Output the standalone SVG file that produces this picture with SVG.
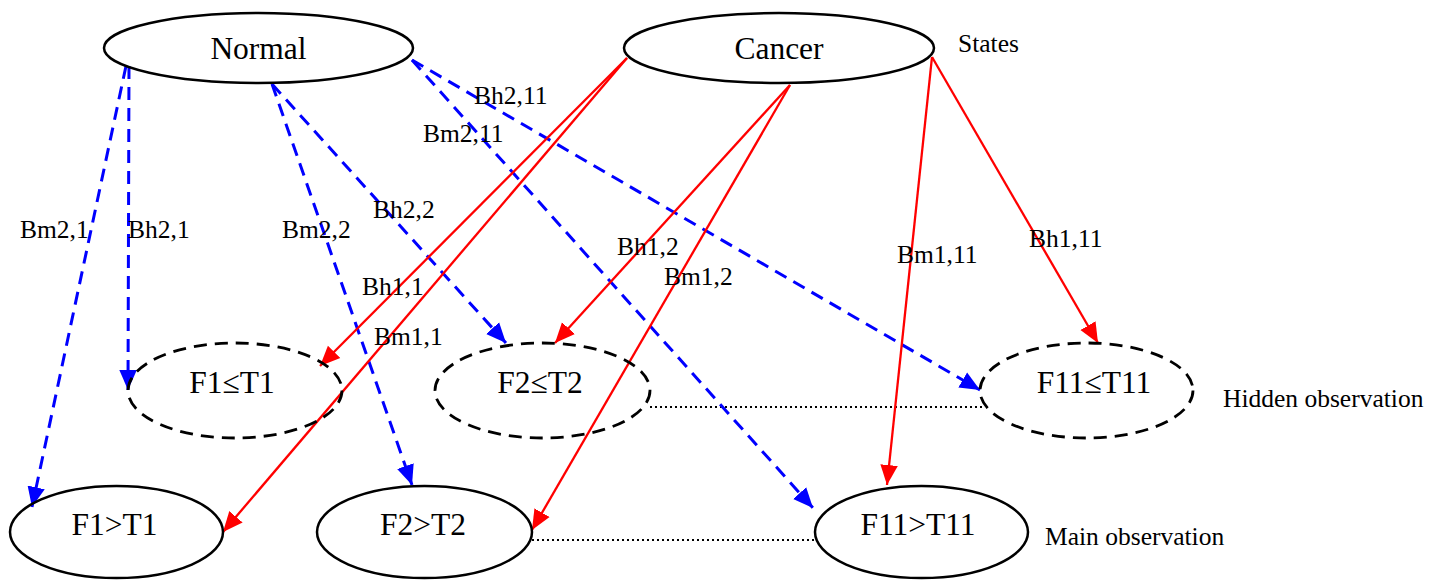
<svg xmlns="http://www.w3.org/2000/svg" width="1445" height="580" viewBox="0 0 1445 580">
<style>
.node{fill:none;stroke:#000;stroke-width:2.5}
.hid{fill:none;stroke:#000;stroke-width:2.8;stroke-dasharray:13,8}
.ntext{font-family:"Liberation Serif",serif;font-size:31.5px;fill:#000;text-anchor:middle}
.lbl{font-family:"Liberation Serif",serif;font-size:25.5px;fill:#000}
.blue{fill:none;stroke:#0000ff;stroke-width:3;stroke-dasharray:13,8}
.red{fill:none;stroke:#ff0000;stroke-width:2.3}
.dot{fill:none;stroke:#000;stroke-width:2.2;stroke-dasharray:2,3}
</style>
<defs>
<marker id="ab" markerUnits="userSpaceOnUse" markerWidth="20" markerHeight="20" viewBox="0 0 16 14" refX="16" refY="7" orient="auto"><path d="M0,0 L16,7 L0,14 Z" fill="#0000ff" stroke="none"/></marker>
<marker id="ar" markerUnits="userSpaceOnUse" markerWidth="20" markerHeight="20" viewBox="0 0 16 14" refX="16" refY="7" orient="auto"><path d="M0,0 L16,7 L0,14 Z" fill="#ff0000" stroke="none"/></marker>
</defs>
<rect width="1445" height="580" fill="#fff"/>

<g id="connectors">
<line class="dot" x1="650" y1="407" x2="982" y2="407"/>
<line class="dot" x1="532" y1="540" x2="815" y2="540"/>
<line class="blue" x1="126" y1="66" x2="32" y2="507" marker-end="url(#ab)"/>
<line class="blue" x1="129" y1="66" x2="128" y2="390" marker-end="url(#ab)"/>
<line class="blue" x1="272" y1="84" x2="412" y2="485" marker-end="url(#ab)"/>
<line class="blue" x1="272" y1="84" x2="506" y2="343" marker-end="url(#ab)"/>
<line class="blue" x1="412" y1="60" x2="813" y2="508" marker-end="url(#ab)"/>
<line class="blue" x1="412" y1="60" x2="980" y2="390" marker-end="url(#ab)"/>
<line class="red" x1="627" y1="58" x2="320" y2="366" marker-end="url(#ar)"/>
<line class="red" x1="627" y1="58" x2="223" y2="532" marker-end="url(#ar)"/>
<line class="red" x1="790" y1="85" x2="555" y2="343" marker-end="url(#ar)"/>
<line class="red" x1="790" y1="85" x2="532" y2="530" marker-end="url(#ar)"/>
<line class="red" x1="932" y1="57" x2="887" y2="485" marker-end="url(#ar)"/>
<line class="red" x1="932" y1="57" x2="1098" y2="343" marker-end="url(#ar)"/>
</g>

<g id="normal"><ellipse class="node" cx="258.5" cy="48" rx="154.5" ry="35"/><text class="ntext" x="258.5" y="59">Normal</text></g>
<g id="cancer"><ellipse class="node" cx="779" cy="48" rx="155" ry="35"/><text class="ntext" x="779" y="59">Cancer</text></g>
<g id="f1le"><ellipse class="hid" cx="235" cy="390.5" rx="107" ry="47.5"/><text class="ntext" x="232" y="393">F1≤T1</text></g>
<g id="f2le"><ellipse class="hid" cx="542.5" cy="390.5" rx="107.5" ry="47.5"/><text class="ntext" x="540" y="393">F2≤T2</text></g>
<g id="f11le"><ellipse class="hid" cx="1086.5" cy="390.5" rx="106.5" ry="47.5"/><text class="ntext" x="1094" y="393">F11≤T11</text></g>
<g id="f1gt"><ellipse class="node" cx="116.5" cy="532" rx="106.5" ry="46"/><text class="ntext" x="114.5" y="535">F1&gt;T1</text></g>
<g id="f2gt"><ellipse class="node" cx="424.5" cy="532" rx="107.5" ry="46"/><text class="ntext" x="423" y="535">F2&gt;T2</text></g>
<g id="f11gt"><ellipse class="node" cx="921.5" cy="532" rx="106.5" ry="46"/><text class="ntext" x="918" y="535">F11&gt;T11</text></g>

<g id="labels">
<text class="lbl" x="20" y="238">Bm2,1</text>
<text class="lbl" x="128" y="238">Bh2,1</text>
<text class="lbl" x="282" y="238">Bm2,2</text>
<text class="lbl" x="373" y="218">Bh2,2</text>
<text class="lbl" x="362" y="295">Bh1,1</text>
<text class="lbl" x="374" y="345">Bm1,1</text>
<text class="lbl" x="423" y="142">Bm2,11</text>
<text class="lbl" x="474" y="104">Bh2,11</text>
<text class="lbl" x="617" y="255">Bh1,2</text>
<text class="lbl" x="664" y="285">Bm1,2</text>
<text class="lbl" x="897" y="263">Bm1,11</text>
<text class="lbl" x="1029" y="247">Bh1,11</text>
<text class="lbl" x="958" y="52">States</text>
<text class="lbl" x="1223" y="407">Hidden observation</text>
<text class="lbl" x="1045" y="545">Main observation</text>
</g>
</svg>
